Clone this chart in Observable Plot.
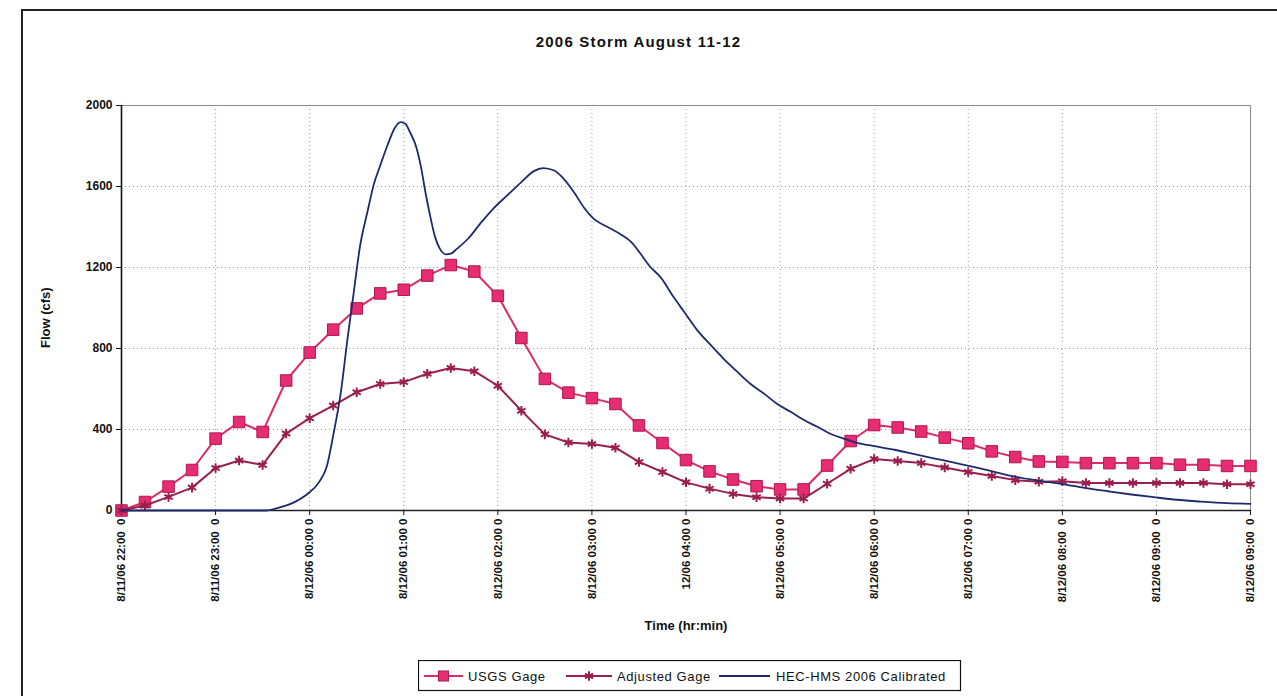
<!DOCTYPE html>
<html><head><meta charset="utf-8">
<script src="https://cdn.jsdelivr.net/npm/d3@7"></script>
<script src="https://cdn.jsdelivr.net/npm/@observablehq/plot@0.6"></script>
<style>
body{margin:0;background:#fff;font-family:"Liberation Sans",Arial,sans-serif;}
#page{position:relative;width:1277px;height:696px;overflow:hidden;}
#border{position:absolute;left:21px;top:9px;right:-5px;bottom:-5px;border-left:2px solid #222;border-top:2px solid #222;}
#title{position:absolute;left:0;width:1277px;top:33px;text-align:center;font-weight:bold;font-size:15px;letter-spacing:1.2px;color:#111;}
#chart{position:absolute;left:0;top:60px;}
#legend{position:absolute;left:418px;top:660px;}
</style></head><body>
<div id="page"><div id="border"></div><div id="title">2006 Storm August 11-12</div><div id="chart"></div><div id="legend"></div></div>
<script>
// Tick labels (one per hour), as printed on the original axis
const hourTicks = [0, 60, 120, 180, 240, 300, 360, 420, 480, 540, 600, 660, 720];
const timeLabels = [
  "8/11/06 22:00\u00a0\u00a00", "8/11/06 23:00\u00a0\u00a00", "8/12/06 00:00\u00a00",
  "8/12/06 01:00\u00a00", "8/12/06 02:00\u00a00", "8/12/06 03:00\u00a00",
  "12/06 04:00\u00a00", "8/12/06 05:00\u00a00", "8/12/06 06:00\u00a00",
  "8/12/06 07:00\u00a00", "8/12/06 08:00\u00a0\u00a00", "8/12/06 09:00\u00a0\u00a00",
  "8/12/06 09:00\u00a0\u00a00"
];
const yTicks = [0, 400, 800, 1200, 1600, 2000];

// Gage observations: minutes after 8/11/06 22:00 (15-minute steps)
const gageMinutes = [0,15,30,45,60,75,90,105,120,135,150,165,180,195,210,225,240,255,270,285,300,315,330,345,360,375,390,405,420,435,450,465,480,495,510,525,540,555,570,585,600,615,630,645,660,675,690,705,720];
const usgsFlow = [0,42,118,200,355,437,388,642,780,893,998,1072,1090,1160,1212,1180,1060,852,650,582,555,526,420,333,249,193,153,120,104,104,222,343,422,410,390,360,332,292,264,242,240,234,234,234,234,226,226,220,220];
const adjustedFlow = [0,25,67,113,210,247,225,380,456,518,584,625,634,675,704,688,616,493,376,336,328,310,240,190,139,108,82,66,59,59,132,206,254,244,234,212,190,170,150,142,145,136,136,136,136,136,136,130,130];

// HEC-HMS simulated hydrograph
const hmsMinutes = [0,92,101,110,118,126,131,135,140,144,148,152,157,161,165,170,174,178,181,184,188,191,194,197,200,203,207,210,214,221,229,237,246,255,263,269,276,282,289,295,301,310,318,325,331,337,344,352,359,367,376,384,393,401,410,418,427,435,444,452,461,469,480,493,505,518,531,544,556,569,584,599,614,629,644,658,673,688,705,720];
const hmsFlow = [0,0,15,40,78,140,220,370,590,840,1070,1300,1480,1613,1704,1811,1885,1918,1910,1868,1794,1696,1564,1449,1350,1293,1265,1268,1293,1342,1419,1490,1556,1622,1676,1691,1679,1638,1567,1495,1441,1400,1365,1326,1268,1205,1150,1055,979,892,815,749,683,626,576,527,486,448,412,379,354,334,318,300,280,258,236,214,192,168,148,132,112,95,79,66,53,44,36,33];

const labelMap = new Map(hourTicks.map((t, i) => [t, timeLabels[i]]));
const usgs = gageMinutes.map((m, i) => ({m, v: usgsFlow[i]}));
const adjusted = gageMinutes.map((m, i) => ({m, v: adjustedFlow[i]}));
const hms = hmsMinutes.map((m, i) => ({m, v: hmsFlow[i]}));

const C_USGS = "#dc2a6a", C_USGS_FILL = "#e62c72", C_USGS_EDGE = "#b01650";
const C_ADJ = "#9a1f4c";
const C_HMS = "#1d2a6c";
const FONT = "Liberation Sans, Arial, sans-serif";

const chart = Plot.plot({
  width: 1277, height: 580,
  marginLeft: 121, marginRight: 27, marginTop: 45, marginBottom: 130,
  style: {fontFamily: FONT, fontSize: "12px", color: "#111", background: "transparent", overflow: "visible"},
  x: {domain: [0, 720]},
  y: {domain: [0, 2000]},
  marks: [
    Plot.gridY(yTicks.filter(d => d > 0 && d < 2000), {stroke: "#9a9a9a", strokeOpacity: 1, strokeDasharray: "1,3"}),
    Plot.gridX(hourTicks.slice(1, -1), {stroke: "#9a9a9a", strokeOpacity: 1, strokeDasharray: "1,3"}),
    Plot.frame({stroke: "#8a8a8a"}),
    Plot.axisY({ticks: yTicks, tickFormat: d => String(d), tickSize: 5, tickPadding: 4, fontWeight: "bold", fontSize: 12, label: null}),
    Plot.axisX({ticks: hourTicks, tickFormat: d => labelMap.get(d), tickRotate: -90, tickSize: 5, tickPadding: 3, fontWeight: "bold", fontSize: 11.5, label: null}),
    Plot.ruleX([0], {stroke: "#111", strokeWidth: 1.6}),
    Plot.ruleY([0], {stroke: "#222", strokeWidth: 1.6}),
    Plot.line(usgs, {x: "m", y: "v", stroke: C_USGS, strokeWidth: 2}),
    Plot.dot(usgs, {x: "m", y: "v", symbol: "square", r: 6.5, fill: C_USGS_FILL, stroke: C_USGS_EDGE, strokeWidth: 1}),
    Plot.line(adjusted, {x: "m", y: "v", stroke: C_ADJ, strokeWidth: 2}),
    Plot.dot(adjusted, {x: "m", y: "v", symbol: "asterisk", r: 4.5, stroke: C_ADJ, strokeWidth: 2}),
    Plot.line(hms, {x: "m", y: "v", stroke: C_HMS, strokeWidth: 1.8, curve: "monotone-x"}),
    Plot.text(["Time (hr:min)"], {frameAnchor: "bottom", dy: 119, fontWeight: "bold", fontSize: 13, fill: "#111"}),
    Plot.text(["Flow (cfs)"], {frameAnchor: "left", dx: -76, dy: 40, rotate: -90, fontWeight: "bold", fontSize: 13, fill: "#111"})
  ]
});
document.getElementById("chart").appendChild(chart);

// Legend
const items = [
  {name: "USGS Gage", color: C_USGS, sym: "square", x0: 6, x1: 45, tx: 50},
  {name: "Adjusted Gage", color: C_ADJ, sym: "asterisk", x0: 148, x1: 194, tx: 199},
  {name: "HEC-HMS 2006 Calibrated", color: C_HMS, sym: null, x0: 301, x1: 352, tx: 358}
];
const lg = d3.select("#legend").append("svg").attr("width", 546).attr("height", 34);
lg.append("rect").attr("x", 0.5).attr("y", 0.5).attr("width", 542).attr("height", 30).attr("fill", "#fff").attr("stroke", "#111").attr("stroke-width", 1.2);
for (const it of items) {
  const cy = 16;
  lg.append("line").attr("x1", it.x0).attr("x2", it.x1).attr("y1", cy).attr("y2", cy).attr("stroke", it.color).attr("stroke-width", 2);
  const cx = (it.x0 + it.x1) / 2;
  if (it.sym === "square") {
    lg.append("rect").attr("x", cx - 5).attr("y", cy - 5).attr("width", 10).attr("height", 10).attr("fill", C_USGS_FILL).attr("stroke", C_USGS_EDGE);
  } else if (it.sym === "asterisk") {
    lg.append("path").attr("transform", `translate(${cx},${cy})`).attr("d", d3.symbol(d3.symbolAsterisk, 60)()).attr("stroke", it.color).attr("stroke-width", 2).attr("fill", "none");
  }
  lg.append("text").attr("x", it.tx).attr("y", cy + 4.5).attr("font-family", FONT).attr("font-size", 13).attr("letter-spacing", "0.6px").attr("fill", "#111").text(it.name);
}
</script>
</body></html>
